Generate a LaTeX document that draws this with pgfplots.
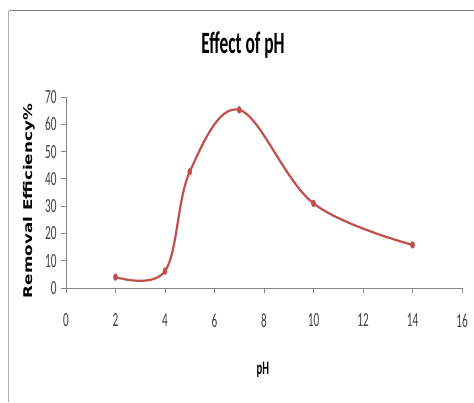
\documentclass[border=0pt]{standalone}
\usepackage{fontspec}
\setmainfont{Carlito}
\newfontfamily\tickfont[FakeStretch=0.56]{Carlito}
\newfontfamily\ylabfont[FakeStretch=1.4]{DejaVu Sans}
\usepackage{pgfplots}
\pgfplotsset{compat=1.18}
\definecolor{serred}{HTML}{C0504D}
\definecolor{axgray}{HTML}{868686}
\definecolor{txtgray}{HTML}{404040}
\begin{document}
\begin{tikzpicture}
\useasboundingbox (0pt,0pt) rectangle (474pt,402pt);
\draw[black!50, line width=1.6pt] (8.5pt,391.3pt) -- (474pt,391.3pt);
\draw[black!32, line width=1.2pt] (8.5pt,0pt) -- (8.5pt,391.3pt);
\begin{axis}[
  at={(66pt,114pt)}, anchor=south west,
  scale only axis, width=396pt, height=191pt,
  xmin=0, xmax=16, ymin=0, ymax=70,
  xtick={0,2,...,16}, ytick={0,10,...,70},
  axis lines*=left,
  axis line style={axgray, line width=0.8pt},
  tick style={axgray, line width=0.8pt},
  major tick length=5pt, tick align=outside,
  /pgf/number format/assume math mode=true,
  ticklabel style={font=\tickfont\fontsize{20}{20}\selectfont, text=txtgray},
  xticklabel style={yshift=-17pt},
  yticklabel style={xshift=-1pt},
  title={\tickfont\bfseries\fontsize{31}{31}\selectfont Effect of pH},
  title style={at={(axis description cs:0.447,1.241)}, anchor=center},
  xlabel={\tickfont\bfseries\fontsize{19}{19}\selectfont pH},
  xlabel style={at={(axis description cs:0.497,-0.429)}, anchor=center},
  ylabel={\ylabfont\bfseries\fontsize{12}{12}\selectfont Removal Efficiency\%},
  ylabel style={at={(axis description cs:-0.093,0.455)}, anchor=center},
  clip=false,
]
\addplot[serred, line width=2.2pt, smooth, tension=0.6,
  mark=*, mark size=3.4pt, mark options={xscale=0.6, line width=0.5pt}]
  coordinates {(2,4) (4,6.2) (5,42.6) (7,65.3) (10,31) (14,15.8)};
\end{axis}
\end{tikzpicture}
\end{document}
